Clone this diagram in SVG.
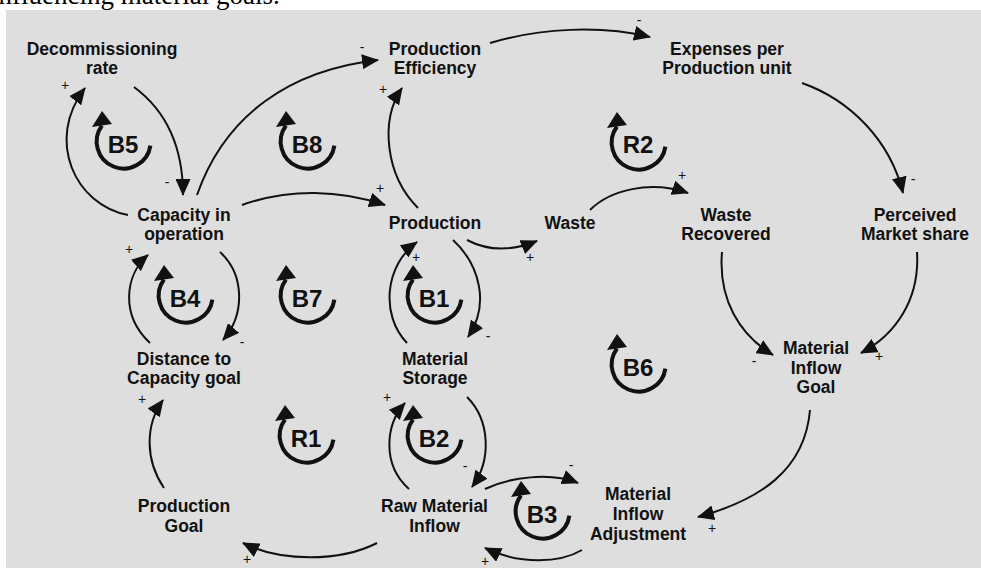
<svg xmlns="http://www.w3.org/2000/svg" width="981" height="568" viewBox="0 0 981 568">
<style>
.cap{font-family:"Liberation Serif","Times New Roman",serif;font-size:27px;fill:#000}
.n{font-family:"Liberation Sans",Arial,sans-serif;font-weight:bold;font-size:17.5px;fill:#111;text-anchor:middle}
.l{font-family:"Liberation Sans",Arial,sans-serif;font-weight:bold;font-size:24px;fill:#111;text-anchor:middle}
.s{font-family:"Liberation Sans",Arial,sans-serif;font-size:14px;fill:#111;text-anchor:middle}
.c{fill:none;stroke:#111;stroke-width:2;marker-end:url(#ah)}
.la{fill:none;stroke:#111;stroke-width:4}
</style>
<defs>
<marker id="ah" viewBox="0 0 17 15" refX="16" refY="7.5" markerWidth="17" markerHeight="15" markerUnits="userSpaceOnUse" orient="auto">
<path d="M0,0 L17,7.5 L0,15 z" fill="#111"/>
</marker>
<g id="loop">
<path class="la" d="M26.4,5.6 A27,27 0 1 1 -22,-14.5"/>
<polygon points="-32,-13 -12,-16 -22,-29" fill="#111"/>
</g>
</defs>
<text class="cap" x="-9" y="4">influencing material goals.</text>
<rect x="6" y="10" width="975" height="558" fill="#dedede"/>

<g id="connectors">
<path class="c" d="M128,215 C75,205 45,140 85,88"/>
<path class="c" d="M134,87 C165,110 183,145 183,195"/>
<path class="c" d="M197,195 C225,115 290,70 378,60"/>
<path class="c" d="M490,43 C540,28 600,25 650,37"/>
<path class="c" d="M802,83 C850,100 890,140 903,193"/>
<path class="c" d="M242,205 C290,188 340,190 385,205"/>
<path class="c" d="M418,208 C385,175 380,120 402,88"/>
<path class="c" d="M467,240 C490,252 515,250 537,241"/>
<path class="c" d="M590,210 C610,190 650,180 688,193"/>
<path class="c" d="M453,240 C480,265 490,305 468,337"/>
<path class="c" d="M407,343 C380,315 385,265 417,242"/>
<path class="c" d="M220,252 C245,275 245,315 223,340"/>
<path class="c" d="M150,343 C120,315 125,275 148,255"/>
<path class="c" d="M164,488 C145,460 145,425 163,400"/>
<path class="c" d="M377,543 C340,562 280,562 243,543"/>
<path class="c" d="M467,397 C490,420 492,460 472,487"/>
<path class="c" d="M409,489 C382,465 385,425 405,403"/>
<path class="c" d="M485,489 C510,477 550,472 578,483"/>
<path class="c" d="M582,550 C560,563 520,565 485,548"/>
<path class="c" d="M722,252 C718,300 740,335 773,355"/>
<path class="c" d="M917,252 C920,300 895,335 861,353"/>
<path class="c" d="M810,410 C805,470 760,500 698,517"/>
<g id="signs">
<text class="s" x="65" y="90">+</text>
<text class="s" x="167" y="187">-</text>
<text class="s" x="362" y="52">-</text>
<text class="s" x="639" y="25">-</text>
<text class="s" x="913" y="184">-</text>
<text class="s" x="380" y="193">+</text>
<text class="s" x="383" y="94">+</text>
<text class="s" x="530" y="262">+</text>
<text class="s" x="682" y="180">+</text>
<text class="s" x="488" y="341">-</text>
<text class="s" x="416" y="262">+</text>
<text class="s" x="242" y="347">-</text>
<text class="s" x="129" y="254">+</text>
<text class="s" x="142" y="404">+</text>
<text class="s" x="247" y="564">+</text>
<text class="s" x="465" y="471">-</text>
<text class="s" x="387" y="402">+</text>
<text class="s" x="571" y="470">-</text>
<text class="s" x="485" y="566">+</text>
<text class="s" x="754" y="366">-</text>
<text class="s" x="879" y="361">+</text>
<text class="s" x="712" y="533">+</text>
</g>
</g>

<g id="decommissioning-rate"><text class="n" x="102" y="55">Decommissioning<tspan x="102" y="74">rate</tspan></text></g>
<g id="production-efficiency"><text class="n" x="435" y="55">Production<tspan x="435" y="74">Efficiency</tspan></text></g>
<g id="expenses-per-production-unit"><text class="n" x="727" y="55">Expenses per<tspan x="727" y="74">Production unit</tspan></text></g>
<g id="capacity-in-operation"><text class="n" x="184" y="221">Capacity in<tspan x="184" y="240">operation</tspan></text></g>
<g id="production"><text class="n" x="435" y="229">Production</text></g>
<g id="waste"><text class="n" x="570" y="229">Waste</text></g>
<g id="waste-recovered"><text class="n" x="726" y="221">Waste<tspan x="726" y="240">Recovered</tspan></text></g>
<g id="perceived-market-share"><text class="n" x="915" y="221">Perceived<tspan x="915" y="240">Market share</tspan></text></g>
<g id="distance-to-capacity-goal"><text class="n" x="184" y="365">Distance to<tspan x="184" y="384">Capacity goal</tspan></text></g>
<g id="material-storage"><text class="n" x="435" y="365">Material<tspan x="435" y="384">Storage</tspan></text></g>
<g id="material-inflow-goal"><text class="n" x="816" y="354">Material<tspan x="816" y="373.5">Inflow</tspan><tspan x="816" y="393">Goal</tspan></text></g>
<g id="production-goal"><text class="n" x="184" y="512">Production<tspan x="184" y="532">Goal</tspan></text></g>
<g id="raw-material-inflow"><text class="n" x="434.5" y="512">Raw Material<tspan x="434.5" y="532">Inflow</tspan></text></g>
<g id="material-inflow-adjustment"><text class="n" x="638" y="500">Material<tspan x="638" y="520">Inflow</tspan><tspan x="638" y="540">Adjustment</tspan></text></g>

<g id="loop-B5"><use href="#loop" x="124" y="140"/><text class="l" x="123" y="153">B5</text></g>
<g id="loop-B8"><use href="#loop" x="308" y="140"/><text class="l" x="307" y="153">B8</text></g>
<g id="loop-R2"><use href="#loop" x="639" y="141"/><text class="l" x="638" y="153">R2</text></g>
<g id="loop-B4"><use href="#loop" x="186" y="294"/><text class="l" x="185" y="307">B4</text></g>
<g id="loop-B7"><use href="#loop" x="308" y="294"/><text class="l" x="307" y="307">B7</text></g>
<g id="loop-B1"><use href="#loop" x="435" y="294"/><text class="l" x="434" y="307">B1</text></g>
<g id="loop-B6"><use href="#loop" x="639" y="363"/><text class="l" x="638" y="376">B6</text></g>
<g id="loop-R1"><use href="#loop" x="307" y="434"/><text class="l" x="306" y="447">R1</text></g>
<g id="loop-B2"><use href="#loop" x="435" y="434"/><text class="l" x="434" y="447">B2</text></g>
<g id="loop-B3"><use href="#loop" x="543" y="510"/><text class="l" x="542" y="523">B3</text></g>
</svg>
